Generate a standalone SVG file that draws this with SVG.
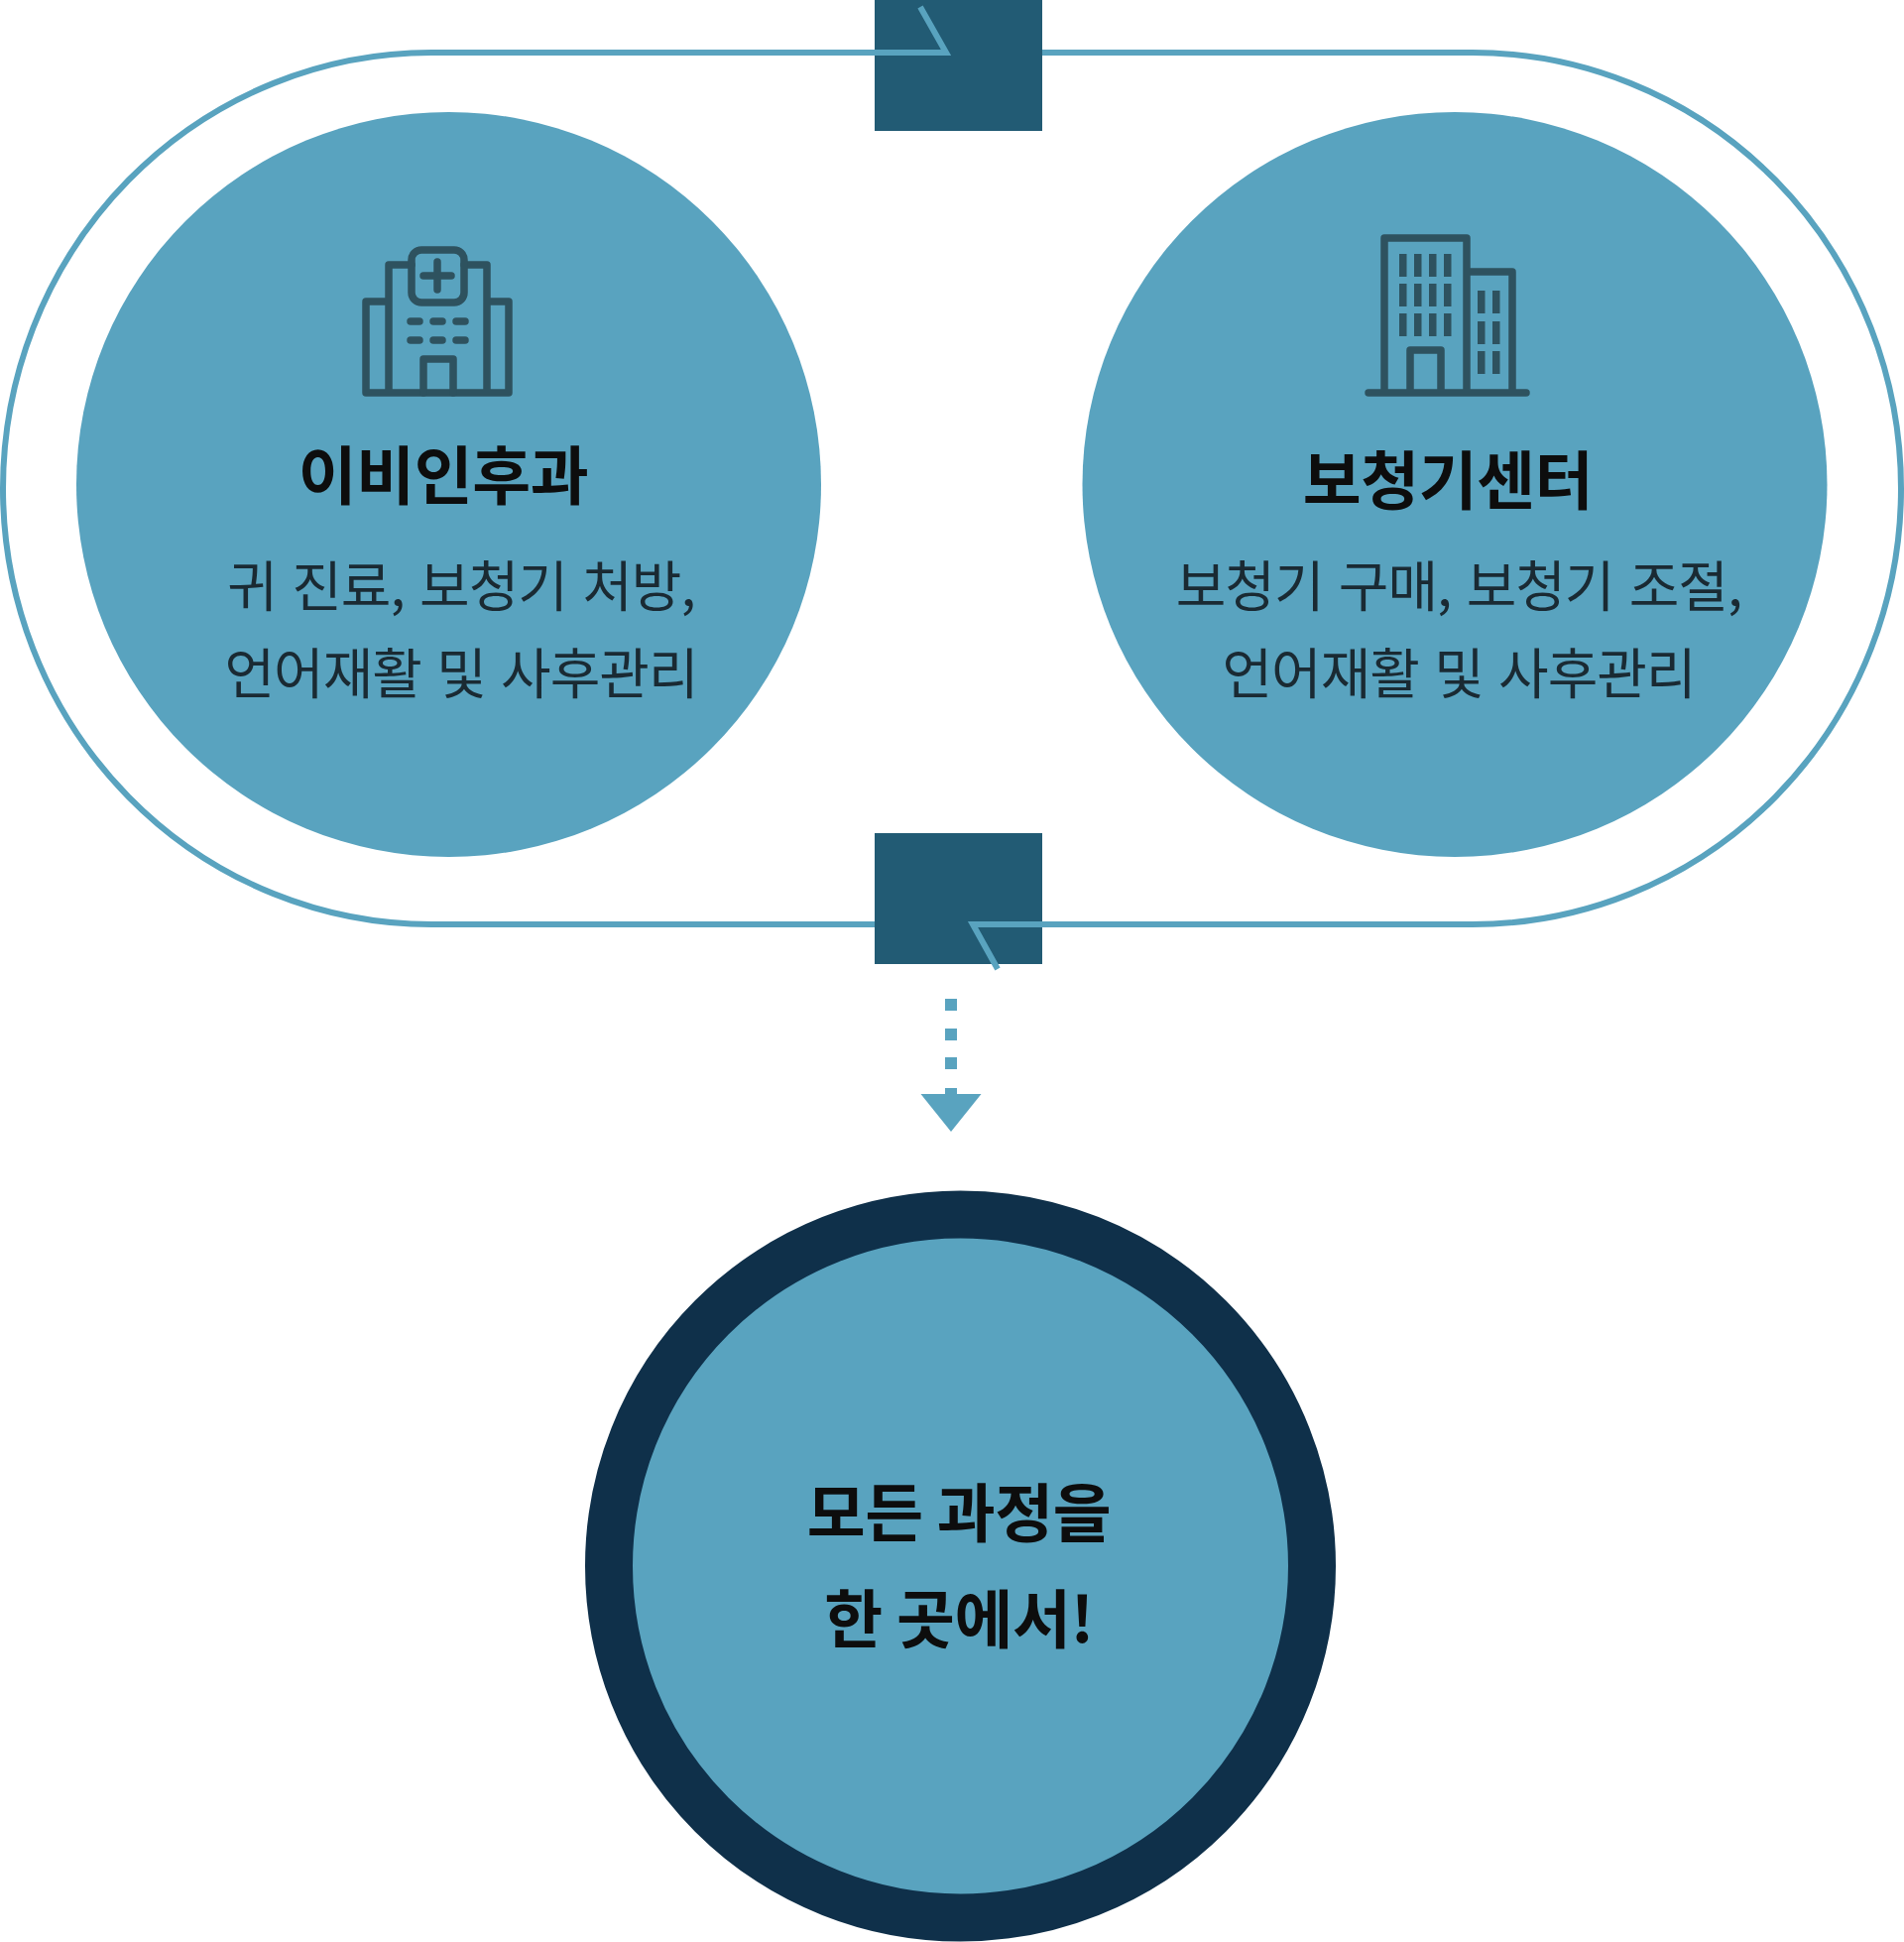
<svg xmlns="http://www.w3.org/2000/svg" width="1920" height="1958" viewBox="0 0 1920 1958">
<style>
text{font-family:"Noto Sans CJK KR","Noto Sans",sans-serif;text-anchor:middle;fill:#0d0d0d}
.t{font-size:64px;font-weight:700;letter-spacing:-0.400px}
.d{font-size:55px;font-weight:400;letter-spacing:-1px;word-spacing:4px;fill:#1a2a33}
.c{fill:#59a3bf}
.l{fill:none;stroke:#59a3bf;stroke-width:6}
.i{fill:none;stroke:#2e525f;stroke-width:7.500;stroke-linejoin:round;stroke-linecap:round}
.w{fill:#2e525f}
.b{fill:#225b74}
</style>
<rect width="1920" height="1958" fill="#fff"/>
<g id="connectors">
<rect class="l" x="3" y="53" width="1914" height="879" rx="432" ry="439.500"/>
</g>
<g id="hub-top"><rect class="b" x="882" y="0" width="169" height="132"/>
<path class="l" d="M882 53H954L928 7"/></g>
<g id="hub-bottom"><rect class="b" x="882" y="840" width="169" height="132"/>
<path class="l" d="M1051 932H981L1006 977"/></g>
<g id="arrow">
<g class="c"><rect x="953" y="1007" width="12" height="12"/><rect x="953" y="1037" width="12" height="12"/><rect x="953" y="1066" width="12" height="12"/><rect x="953" y="1097" width="12" height="12"/></g>
<path class="c" d="M928.500 1103H989.500L959 1141Z"/>
</g>
<g id="ent">
<circle class="c" cx="452.500" cy="488.500" r="375.500"/>
<g class="i">
<path d="M415 267H392V396M468 267H491V396M392 304H369V396H513V304H491"/>
<rect x="415" y="252" width="53" height="53" rx="10"/>
<path d="M441 264V292M427 278H455M414 324H423M437 324H446M460 324H469M414 343H423M437 343H446M460 343H469M427 396V362H457V396"/>
</g>
<text class="t" x="447" y="503">이비인후과</text>
<text class="d" x="465" y="611">귀 진료, 보청기 처방,</text>
<text class="d" x="465" y="699">언어재활 및 사후관리</text>
</g>
<g id="center">
<circle class="c" cx="1467" cy="488.500" r="375.500"/>
<g class="i">
<path d="M1396 396V240H1479V396M1479 274H1525V396M1380 396H1539M1422 396V353H1453V396"/>
</g>
<g class="w">
<rect x="1411" y="256" width="7.500" height="23"/><rect x="1426" y="256" width="7.500" height="23"/><rect x="1441" y="256" width="7.500" height="23"/><rect x="1456" y="256" width="7.500" height="23"/>
<rect x="1411" y="286" width="7.500" height="23"/><rect x="1426" y="286" width="7.500" height="23"/><rect x="1441" y="286" width="7.500" height="23"/><rect x="1456" y="286" width="7.500" height="23"/>
<rect x="1411" y="316" width="7.500" height="23"/><rect x="1426" y="316" width="7.500" height="23"/><rect x="1441" y="316" width="7.500" height="23"/><rect x="1456" y="316" width="7.500" height="23"/>
<rect x="1490" y="293" width="7.500" height="23"/><rect x="1505" y="293" width="7.500" height="23"/>
<rect x="1490" y="324" width="7.500" height="23"/><rect x="1505" y="324" width="7.500" height="23"/>
<rect x="1490" y="354" width="7.500" height="23"/><rect x="1505" y="354" width="7.500" height="23"/>
</g>
<text class="t" x="1460" y="508">보청기센터</text>
<text class="d" x="1471" y="611">보청기 구매, 보청기 조절,</text>
<text class="d" x="1471" y="699">언어재활 및 사후관리</text>
</g>
<g id="result">
<circle cx="968.500" cy="1579" r="354.500" fill="#59a3bf" stroke="#0f304a" stroke-width="48"/>
<text class="t" x="967" y="1549">모든 과정을</text>
<text class="t" x="967" y="1656">한 곳에서!</text>
</g>
</svg>
